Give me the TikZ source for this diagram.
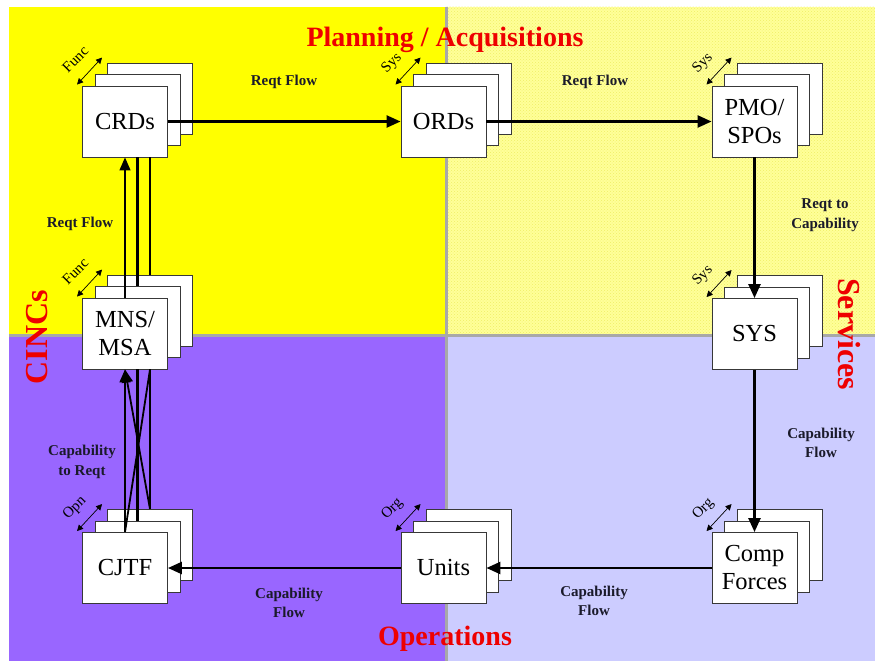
\documentclass[tikz,border=0pt]{standalone}
\usepackage{fontspec}
\setmainfont{Liberation Serif}
\usetikzlibrary{arrows.meta,patterns,calc}
\definecolor{yel}{HTML}{FFFF00}
\definecolor{ltyel}{HTML}{FFFF99}
\definecolor{dotyel}{HTML}{EEEE66}
\definecolor{purp}{HTML}{9966FF}
\definecolor{lav}{HTML}{CCCCFF}
\definecolor{divgray}{HTML}{A8A8A8}
\definecolor{bxline}{HTML}{383838}
\definecolor{sectred}{HTML}{EE0000}
\definecolor{lbl}{HTML}{1A1A2A}
\newcommand\mystack[5]{%
  \node[bx] (#1-3) at (#2+25,#3-23) {};
  \node[bx] (#1-2) at (#2+12.5,#3-11.5) {};
  \node[bx] (#1) at (#2,#3) {#4};
  \draw[dbl] ($(#1.north west)+(-5,-1)$) -- ($(#1.north west)+(20,-28)$);
  \node[tagtxt, anchor=base west, rotate=45] (#1-tag) at ($(#1.north west)+(-14,-12)$) {#5};
}
\begin{document}
\begin{tikzpicture}[x=1pt,y=-1pt,
  bx/.style={draw=bxline, line width=0.9pt, fill=white, minimum width=85pt, minimum height=71pt, inner sep=0pt, align=center, font=\fontsize{24.5}{28}\selectfont},
  dbl/.style={line width=0.7pt, {Triangle[length=6pt,width=6pt]}-{Triangle[length=6pt,width=6pt]}},
  tagtxt/.style={font=\fontsize{15}{16}\selectfont, inner sep=0pt},
  flow/.style={line width=2.4pt, -{Triangle[length=14pt,width=12pt]}},
  thinflow/.style={line width=1.4pt, -{Triangle[length=13pt,width=11pt]}},
  thk/.style={line width=2.4pt},
  elabel/.style={font=\fontsize{15}{19.5}\selectfont\bfseries, text=lbl, align=center, inner sep=0pt},
  sect/.style={font=\fontsize{28}{30}\selectfont\bfseries, text=sectred, inner sep=0pt},
  sectside/.style={font=\fontsize{32}{34}\selectfont\bfseries, text=sectred, inner sep=0pt}
]
\useasboundingbox (0,0) rectangle (875,661);
% quadrants
\fill[white] (0,0) rectangle (875,661);
\fill[yel] (9,7) rectangle (446,335);
\fill[ltyel] (446,7) rectangle (875,335);
\fill[pattern=crosshatch dots, pattern color=dotyel] (446,7) rectangle (875,335);
\fill[purp] (9,335) rectangle (446,661);
\fill[lav] (446,335) rectangle (875,661);
\draw[divgray, line width=3pt] (446,7) -- (446,661);
\draw[divgray, line width=3pt] (9,335) -- (875,335);
% section titles
\node[sect] (plan) at (445,40) {Planning / Acquisitions};
\node[sect] (oper) at (445,639) {Operations};
\node[sectside, rotate=90] (cincs) at (37,337) {CINCs};
\node[sectside, rotate=-90] (serv) at (849,334) {Services};
% stacks
\mystack{crds}{125}{121.5}{CRDs}{Func}
\mystack{ords}{443.5}{121.5}{ORDs}{Sys}
\mystack{pmo}{754.5}{121.5}{PMO/\\SPOs}{Sys}
\mystack{sys}{754.5}{334}{SYS}{Sys}
\mystack{mns}{125}{333.5}{MNS/\\MSA}{Func}
\mystack{cjtf}{125}{568}{CJTF}{Opn}
\mystack{units}{443.5}{568}{Units}{Org}
\mystack{comp}{754.5}{568}{Comp\\Forces}{Org}
% main flow
\draw[flow] (crds.east) -- (ords.west);
\draw[flow] (ords.east) -- (pmo.west);
\draw[flow] (pmo.south) -- (sys.north);
\draw[flow] (sys.south) -- (comp.north);
\draw[flow] (comp.west) -- (units.east);
\draw[flow] (units.west) -- (cjtf.east);
% MNS -> CRDs
\draw[thinflow] (mns.north) -- (crds.south);
\draw[thk] (mns-2.north) -- (mns-2.north |- crds.south);
\draw[thk] (mns-3.north) -- (mns-3.north |- crds.south);
% CJTF -> MNS
\draw[thinflow] (cjtf.north) -- (mns.south);
\draw[thk] (cjtf-2.north) -- (cjtf-2.north |- mns.south);
\draw[thk] (cjtf-3.north) -- (cjtf-3.north |- mns.south);
\draw[line width=1.8pt] (cjtf.north) -- (cjtf-3.north |- mns.south);
\draw[line width=1.8pt, -{Triangle[length=13pt,width=11pt]}] (cjtf-3.north) -- (mns.south);
% edge labels
\node[elabel] (l1) at (284,82) {Reqt Flow};
\node[elabel] (l2) at (595,82) {Reqt Flow};
\node[elabel] (l3) at (825,215) {Reqt to\\Capability};
\node[elabel] (l4) at (821,443) {Capability\\Flow};
\node[elabel] (l5) at (594,601) {Capability\\Flow};
\node[elabel] (l6) at (289,603) {Capability\\Flow};
\node[elabel] (l7) at (82,462) {Capability\\to Reqt};
\node[elabel] (l8) at (80,224) {Reqt Flow};
\end{tikzpicture}
\end{document}
